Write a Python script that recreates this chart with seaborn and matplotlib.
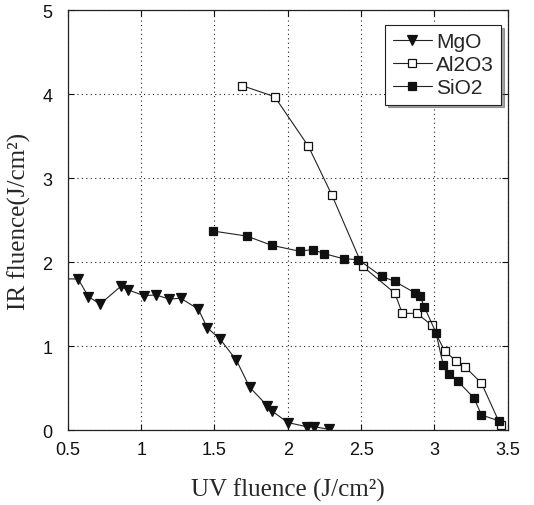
import matplotlib
matplotlib.use("Agg")
import matplotlib.pyplot as plt
import pandas as pd
import seaborn as sns

# MgO (filled down triangles)
mgo_uv = [0.45, 0.57, 0.64, 0.72, 0.86, 0.91, 1.02, 1.10, 1.19, 1.27, 1.39, 1.45,
          1.54, 1.65, 1.74, 1.86, 1.89, 2.00, 2.13, 2.18, 2.28]
mgo_ir = [1.80, 1.80, 1.59, 1.50, 1.71, 1.67, 1.60, 1.61, 1.56, 1.57, 1.44, 1.22,
          1.08, 0.83, 0.51, 0.29, 0.23, 0.09, 0.04, 0.04, 0.01]

# Al2O3 (open squares)
al2o3_uv = [1.69, 1.91, 2.14, 2.30, 2.51, 2.73, 2.78, 2.88, 2.98, 3.07, 3.15, 3.21,
            3.32, 3.45]
al2o3_ir = [4.10, 3.97, 3.38, 2.80, 1.95, 1.63, 1.39, 1.39, 1.25, 0.94, 0.82, 0.75,
            0.56, 0.06]

# SiO2 (filled squares)
sio2_uv = [1.49, 1.72, 1.89, 2.08, 2.17, 2.25, 2.38, 2.48, 2.64, 2.73, 2.87, 2.90,
           2.93, 3.01, 3.06, 3.10, 3.16, 3.27, 3.32, 3.44]
sio2_ir = [2.37, 2.31, 2.20, 2.13, 2.15, 2.10, 2.04, 2.03, 1.83, 1.77, 1.63, 1.60,
           1.47, 1.16, 0.77, 0.67, 0.58, 0.38, 0.18, 0.11]

x_ticks = [0.5, 1, 1.5, 2, 2.5, 3, 3.5]
x_ticklabels = ["0.5", "1", "1.5", "2", "2.5", "3", "3.5"]
y_ticks = [0, 1, 2, 3, 4, 5]

sns.set_style("ticks")
plt.rcParams["font.family"] = ["Liberation Sans", "DejaVu Sans"]
plt.rcParams["xtick.direction"] = "in"
plt.rcParams["ytick.direction"] = "in"

fig = plt.figure(figsize=(5.34, 5.06), dpi=100)
ax = fig.add_axes([0.127, 0.148, 0.824, 0.830])

series = [
    ("MgO", mgo_uv, mgo_ir, dict(marker="v", markersize=7, markerfacecolor="#111111")),
    ("Al2O3", al2o3_uv, al2o3_ir, dict(marker="s", markersize=5.5, markerfacecolor="white")),
    ("SiO2", sio2_uv, sio2_ir, dict(marker="s", markersize=6, markerfacecolor="#111111")),
]
for name, xs, ys, style in series:
    df = pd.DataFrame({"uv": xs, "ir": ys})
    sns.lineplot(
        data=df, x="uv", y="ir", ax=ax, sort=False, estimator=None,
        color="#222222", linewidth=0.8, markeredgecolor="#111111",
        markeredgewidth=0.9, label=name, **style,
    )

ax.set_xlim(0.5, 3.5)
ax.set_ylim(0, 5)
ax.set_xticks(x_ticks)
ax.set_xticklabels(x_ticklabels)
ax.set_yticks(y_ticks)
ax.tick_params(labelsize=13, top=True, right=True, length=4, width=0.8, colors="#111111")
ax.tick_params(axis="x", pad=8)
ax.tick_params(axis="y", pad=11)
ax.grid(True, linestyle=(0, (1, 3)), color="#222222", linewidth=0.8)
for s in ax.spines.values():
    s.set_visible(True)
    s.set_color("#222222")
    s.set_linewidth(0.9)

ax.set_xlabel("UV fluence (J/cm²)", fontfamily="Liberation Serif", fontsize=18, labelpad=14)
ax.set_ylabel("IR fluence(J/cm²)", fontfamily="Liberation Serif", fontsize=18, labelpad=8)

leg = ax.legend(loc="upper right", bbox_to_anchor=(0.995, 0.975), fontsize=15,
                frameon=True, fancybox=False, shadow=True, edgecolor="#222222",
                framealpha=1, handlelength=1.9, handletextpad=0.2, borderpad=0.35,
                labelspacing=0.2, borderaxespad=0.2)
leg.get_frame().set_linewidth(0.8)

fig.savefig("out.png", dpi=100)
